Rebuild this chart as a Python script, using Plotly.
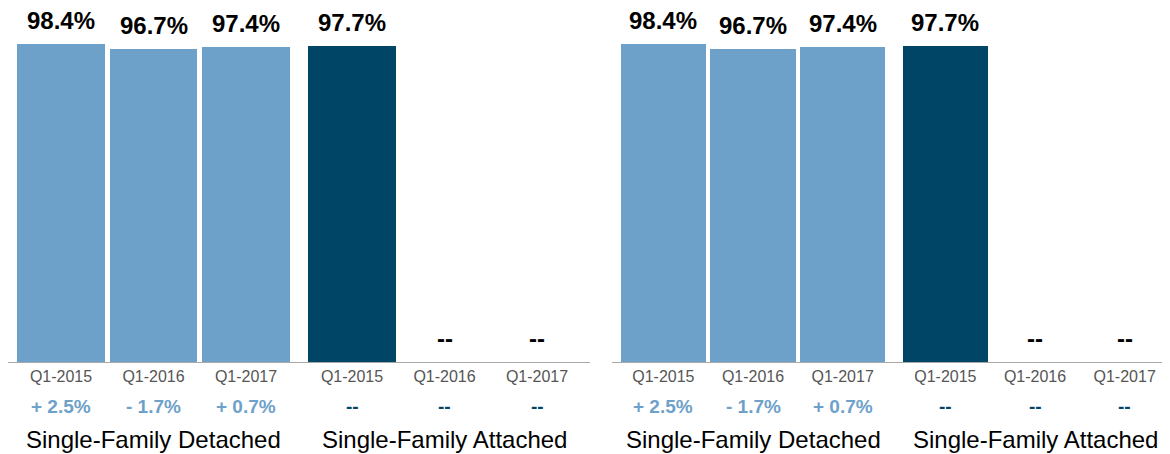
import plotly.graph_objects as go
from plotly.subplots import make_subplots

# ---- data ----
groups = ["Single-Family Detached", "Single-Family Attached"]
quarters = ["Q1-2015", "Q1-2016", "Q1-2017"]
detached = [98.4, 96.7, 97.4]
attached = [97.7, None, None]
detached_change = ["+ 2.5%", "- 1.7%", "+ 0.7%"]
attached_change = ["--", "--", "--"]

LIGHT = "#6ea1c9"
NAVY = "#014566"
FONT = "Liberation Sans, Arial, Helvetica, sans-serif"

GAP = 0.146  # extra space between the two groups, in slot units
HALF = 0.573

def positions(g):
    return [g * (len(quarters) + GAP) + k for k in range(len(quarters))]

# the page body adds an 8px margin, so the figure is 8px smaller each way
W, H = 1162, 446
fig = make_subplots(rows=1, cols=2, horizontal_spacing=0)

series = [(detached, detached_change, LIGHT), (attached, attached_change, NAVY)]

for col in (1, 2):
    xref = "x" if col == 1 else "x2"
    yref = "y" if col == 1 else "y2"
    for g, (vals, chg, color) in enumerate(series):
        xs = positions(g)
        fig.add_trace(go.Bar(x=xs, y=[v if v is not None else 0 for v in vals],
                             marker=dict(color=color, line=dict(width=0)),
                             width=0.95, showlegend=False, hoverinfo="skip"),
                      row=1, col=col)
        for x, v, c in zip(xs, vals, chg):
            fig.add_annotation(x=x, y=v if v is not None else 0, xref=xref, yref=yref,
                               text=f"<b>{v}%</b>" if v is not None else "<b>--</b>",
                               showarrow=False, yanchor="bottom", yshift=8,
                               font=dict(family=FONT, size=24, color="#000"))
            fig.add_annotation(x=x, y=0, xref=xref, yref=f"{yref} domain",
                               text=f"<b>{c}</b>", showarrow=False,
                               yanchor="middle", yshift=-44,
                               font=dict(family=FONT, size=19, color=color))
        center = sum(xs) / len(xs)
        fig.add_annotation(x=center, y=0, xref=xref, yref=f"{yref} domain",
                           text=groups[g], showarrow=False, yanchor="middle", yshift=-77,
                           font=dict(family=FONT, size=24, color="#000"))
    # group boundary ticks
    p0 = positions(0)
    p1 = positions(1)
    for bx in (p0[0] - HALF, (p0[-1] + p1[0]) / 2, p1[-1] + HALF):
        fig.add_shape(type="line", xref=xref, yref=yref, x0=bx, x1=bx,
                      ysizemode="pixel", yanchor=0, y0=0, y1=-7,
                      line=dict(color="#a8a8a8", width=1))

allx = positions(0) + positions(1)
xaxis_common = dict(tickvals=allx, ticktext=quarters * 2, showgrid=False, zeroline=False,
                    showline=True, linecolor="#a8a8a8", linewidth=1, ticks="",
                    tickfont=dict(family=FONT, size=16, color="#555"))
fig.update_xaxes(**xaxis_common)
fig.update_xaxes(range=[allx[0] - HALF, allx[-1] + HALF], domain=[0, 582 / W], row=1, col=1)
fig.update_xaxes(range=[allx[0] - HALF, allx[-1] + HALF - 0.067], domain=[604 / W, 1.0], row=1, col=2)
fig.update_yaxes(range=[0, 109.5], visible=False)

fig.update_layout(width=W, height=H, margin=dict(l=0, r=0, t=0, b=92),
                  plot_bgcolor="white", paper_bgcolor="white", bargap=0,
                  font=dict(family=FONT))
fig.write_html("out.html")
